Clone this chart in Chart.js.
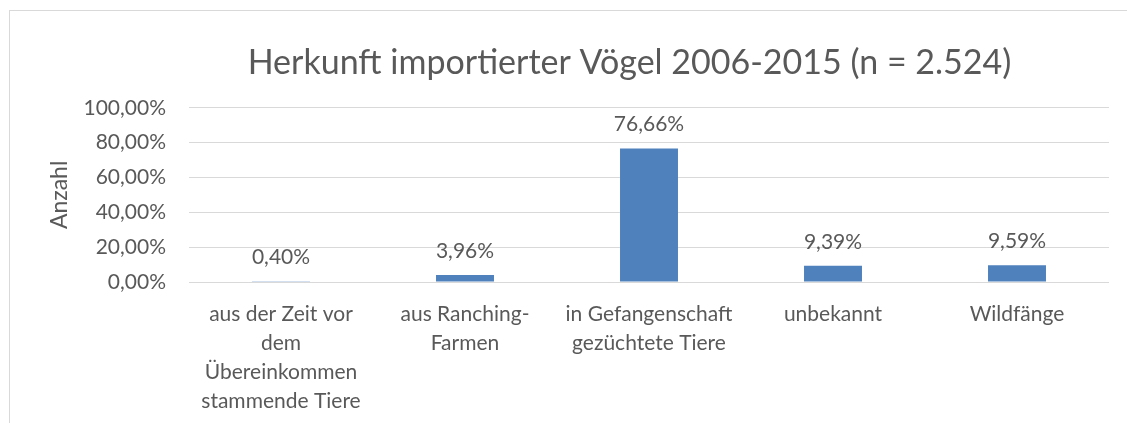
<!DOCTYPE html>
<html>
<head>
<meta charset="utf-8">
<script src="https://cdn.jsdelivr.net/npm/chart.js@4"></script>
<style>
  html, body { margin: 0; padding: 0; background: #fff; overflow: hidden; }
  #wrap { position: relative; width: 1127px; height: 423px; overflow: hidden; }
  #frame { position: absolute; left: 9px; top: 10px; width: 1300px; height: 500px; border: 1px solid #d9d9d9; pointer-events: none; }
  canvas { position: absolute; left: 0; top: 0; }
</style>
</head>
<body>
<div id="wrap">
  <div id="frame"></div>
  <canvas id="herkunftChart" width="1259" height="423"></canvas>
</div>
<script>
const categories = [
    ['aus der Zeit vor', 'dem', 'Übereinkommen', 'stammende Tiere'],
    ['aus Ranching-', 'Farmen'],
    ['in Gefangenschaft', 'gezüchtete Tiere'],
    'unbekannt',
    'Wildfänge'
];
const anteile = [0.40, 3.96, 76.66, 9.39, 9.59];
const yTicks = [0, 20, 40, 60, 80, 100];

const textColor = '#595959';
const fmt = v => v.toFixed(2).replace('.', ',') + '%';

// draws the value above each bar, like the Excel data labels
const valueLabels = {
    id: 'valueLabels',
    afterDatasetsDraw(chart) {
        const ctx = chart.ctx;
        const meta = chart.getDatasetMeta(0);
        ctx.save();
        ctx.font = '21px Lato';
        ctx.fillStyle = textColor;
        ctx.textAlign = 'center';
        ctx.textBaseline = 'alphabetic';
        meta.data.forEach((bar, i) => {
            ctx.fillText(fmt(anteile[i]), bar.x, bar.y - 17);
        });
        ctx.restore();
    }
};

// the Excel title is centred on the whole chart, not on the padded box
const wideTitle = {
    id: 'wideTitle',
    afterLayout(chart) {
        if (chart.titleBlock) {
            chart.titleBlock.left = 0;
            chart.titleBlock.right = chart.width;
            chart.titleBlock.width = chart.width;
        }
    }
};

var ctx = document.getElementById('herkunftChart').getContext('2d');
var herkunftChart = new Chart(ctx, {
    type: 'bar',
    data: {
        labels: categories,
        datasets: [{
            label: 'Anteil',
            data: anteile,
            backgroundColor: '#4F81BD',
            categoryPercentage: 1,
            barPercentage: 0.315
        }]
    },
    options: {
        responsive: false,
        animation: false,
        devicePixelRatio: 1,
        layout: {
            padding: { left: 0, right: 150, top: 0, bottom: 0 }
        },
        plugins: {
            legend: { display: false },
            tooltip: { enabled: false },
            title: {
                display: true,
                text: 'Herkunft importierter Vögel 2006-2015 (n = 2.524)',
                color: textColor,
                font: { family: 'Lato', size: 34, weight: 'normal' },
                padding: { top: 43, bottom: 24 }
            }
        },
        scales: {
            x: {
                afterFit: scale => {
                    scale.height = 141;
                },
                grid: { display: false, drawTicks: false },
                border: { display: false },
                ticks: {
                    color: textColor,
                    font: { family: 'Lato', size: 21, lineHeight: 1.38 },
                    padding: 18,
                    maxRotation: 0,
                    autoSkip: false
                }
            },
            y: {
                min: 0,
                max: 100,
                afterBuildTicks: scale => {
                    scale.ticks = yTicks.map(v => ({ value: v }));
                },
                afterFit: scale => {
                    scale.width = 189;
                },
                grid: { color: '#d9d9d9', lineWidth: 1, drawTicks: false },
                border: { display: false },
                ticks: {
                    color: textColor,
                    font: { family: 'Lato', size: 21 },
                    padding: 23,
                    callback: v => fmt(v)
                },
                title: {
                    display: true,
                    text: 'Anzahl',
                    color: textColor,
                    font: { family: 'Lato', size: 23 },
                    padding: { top: 46, bottom: 0 }
                }
            }
        }
    },
    plugins: [valueLabels, wideTitle]
});
</script>
</body>
</html>
